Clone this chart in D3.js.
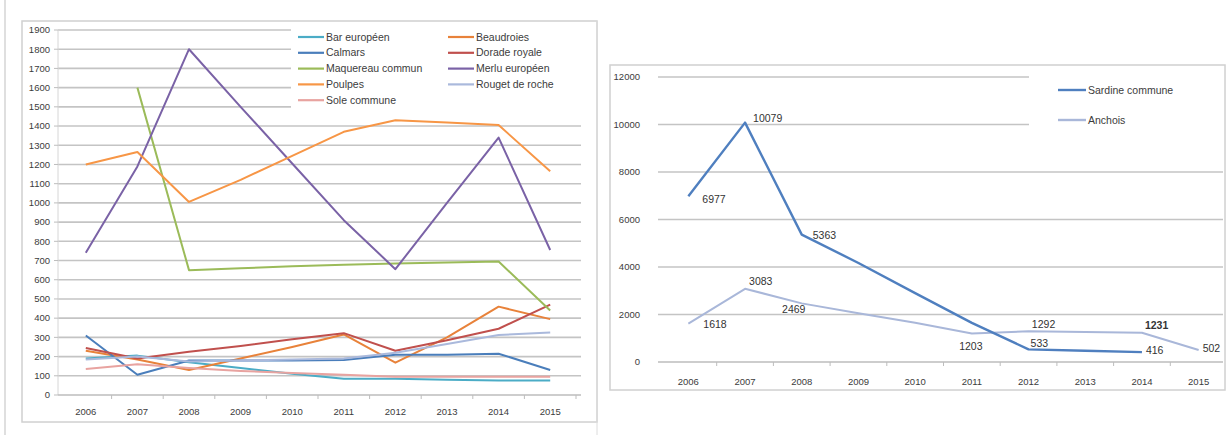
<!DOCTYPE html>
<html lang="fr">
<head>
<meta charset="utf-8">
<script src="https://cdn.jsdelivr.net/npm/d3@7"></script>
<style>
  html, body { margin: 0; padding: 0; background: #fff; }
  svg { display: block; font-family: "Liberation Sans", Arial, sans-serif; }
  .tick-label { fill: #3c3c3c; font-size: 9.5px; }
  .legend-label { fill: #3c3c3c; font-size: 10.5px; }
  .data-label { fill: #333; font-size: 10.5px; }
</style>
</head>
<body>
<svg id="chart" width="1231" height="435"></svg>
<script>
// ---- Data ----
const years = [2006, 2007, 2008, 2009, 2010, 2011, 2012, 2013, 2014, 2015];

// Left chart: landings by species (tonnes)
const barEuropeen     = [190, 205, 170, 140, 110, 85, 85, 80, 75, 75];
const beaudroies      = [230, 185, 130, 190, 250, 315, 168, 300, 460, 395];
const calmars         = [310, 105, 180, 180, 180, 182, 210, 210, 215, 130];
const doradeRoyale    = [245, 190, 225, 255, 290, 322, 230, 285, 345, 470];
const maquereauCommun = [null, 1600, 650, 660, 670, 678, 685, 690, 695, 440];
const merluEuropeen   = [740, 1190, 1800, 1500, 1205, 910, 655, 1000, 1340, 755];
const poulpes         = [1200, 1265, 1005, 1120, 1245, 1370, 1430, 1418, 1405, 1165];
const rougetDeRoche   = [185, 200, 175, 180, 185, 190, 220, 265, 312, 325];
const soleCommune     = [135, 160, 140, 125, 115, 105, 95, 95, 95, 95];

const leftTicks = d3.range(0, 2000, 100);

// Right chart: small pelagics (tonnes)
const sardineCommune = [6977, 10079, 5363, 4170, 2900, 1650, 533, 475, 416, null];
const anchois        = [1618, 3083, 2469, 2050, 1650, 1203, 1292, 1260, 1231, 502];

const rightTicks = [0, 2000, 4000, 6000, 8000, 10000, 12000];

// Values that carry a label on the right chart (index into years)
const sardineLabelled = [0, 1, 2, 6, 8];
const anchoisLabelled = [0, 1, 2, 5, 6, 8, 9];

// ---- Series descriptors ----
const leftSeries = [
  { name: "Bar européen",     values: barEuropeen,     color: "#4bacc6" },
  { name: "Beaudroies",       values: beaudroies,      color: "#e8823a" },
  { name: "Calmars",          values: calmars,         color: "#4a7ebb" },
  { name: "Dorade royale",    values: doradeRoyale,    color: "#c0504d" },
  { name: "Maquereau commun", values: maquereauCommun, color: "#9bbb59" },
  { name: "Merlu européen",   values: merluEuropeen,   color: "#7a62a6" },
  { name: "Poulpes",          values: poulpes,         color: "#f79646" },
  { name: "Rouget de roche",  values: rougetDeRoche,   color: "#aab9dc" },
  { name: "Sole commune",     values: soleCommune,     color: "#e8a3a0" }
];

const rightSeries = [
  { name: "Sardine commune", values: sardineCommune, color: "#4f7fbf", width: 2.4, labelled: sardineLabelled },
  { name: "Anchois",         values: anchois,        color: "#a9b7d9", width: 2,   labelled: anchoisLabelled }
];

const svg = d3.select("#chart");

// page edge line
svg.append("line").attr("x1", 5).attr("x2", 5).attr("y1", 0).attr("y2", 435)
  .attr("stroke", "#d4d4d4").attr("stroke-width", 1.5);

// ================= LEFT CHART =================
{
  const g = svg.append("g");
  g.append("rect").attr("x", 22).attr("y", 21).attr("width", 575).attr("height", 401)
    .attr("fill", "#fff").attr("stroke", "#d0d0d0").attr("stroke-width", 1.5);

  const x = d3.scalePoint().domain(years).range([60, 576]).padding(0.5);
  const y = d3.scaleLinear().domain([0, 1900]).range([395, 30]);
  const step = x.step();

  // gridlines
  g.selectAll("line.grid").data(leftTicks.filter(t => t > 0)).join("line")
    .attr("x1", 58).attr("x2", 581)
    .attr("y1", d => y(d)).attr("y2", d => y(d))
    .attr("stroke", "#c4c4c4").attr("stroke-width", 1.6);

  // y axis
  g.append("line").attr("x1", 58).attr("x2", 58).attr("y1", y(1900)).attr("y2", y(0))
    .attr("stroke", "#d6d6d6").attr("stroke-width", 1);
  g.selectAll("line.ytick").data(leftTicks).join("line")
    .attr("x1", 54).attr("x2", 58).attr("y1", d => y(d)).attr("y2", d => y(d))
    .attr("stroke", "#bdbdbd");
  g.selectAll("text.ylab").data(leftTicks).join("text")
    .attr("class", "tick-label")
    .attr("x", 50).attr("y", d => y(d)).attr("dy", "0.35em")
    .attr("text-anchor", "end").text(d => d);

  // x axis
  g.append("line").attr("x1", 58).attr("x2", 581).attr("y1", y(0)).attr("y2", y(0))
    .attr("stroke", "#bdbdbd").attr("stroke-width", 1.5);
  g.selectAll("line.xtick").data(years).join("line")
    .attr("x1", d => x(d) + step / 2).attr("x2", d => x(d) + step / 2)
    .attr("y1", y(0)).attr("y2", y(0) + 4).attr("stroke", "#bdbdbd");
  g.selectAll("text.xlab").data(years).join("text")
    .attr("class", "tick-label")
    .attr("x", d => x(d)).attr("y", 412).attr("dy", "0.35em")
    .attr("text-anchor", "middle").text(d => d);

  const line = d3.line()
    .defined(d => d != null)
    .x((d, i) => x(years[i]))
    .y(d => y(d));

  g.selectAll("path.series").data(leftSeries).join("path")
    .attr("fill", "none")
    .attr("stroke", d => d.color)
    .attr("stroke-width", 2)
    .attr("stroke-linejoin", "round")
    .attr("d", d => line(d.values));

  // legend
  const lg = g.append("g");
  lg.append("rect").attr("x", 291).attr("y", 25).attr("width", 292).attr("height", 86).attr("fill", "#fff");
  leftSeries.forEach((s, i) => {
    const col = i % 2, row = Math.floor(i / 2);
    const lx = col === 0 ? 298 : 448;
    const ly = 37 + row * 15.8;
    lg.append("line").attr("x1", lx).attr("x2", lx + 26).attr("y1", ly).attr("y2", ly)
      .attr("stroke", s.color).attr("stroke-width", 2.2);
    lg.append("text").attr("class", "legend-label")
      .attr("x", lx + 28).attr("y", ly).attr("dy", "0.35em").text(s.name);
  });
}

// ================= RIGHT CHART =================
{
  const g = svg.append("g");
  g.append("line").attr("x1", 597).attr("x2", 597).attr("y1", 21).attr("y2", 435)
    .attr("stroke", "#dcdcdc").attr("stroke-width", 1);
  g.append("rect").attr("x", 610).attr("y", 65).attr("width", 615).attr("height", 325)
    .attr("fill", "#fff").attr("stroke", "#d0d0d0").attr("stroke-width", 1.5);

  const x = d3.scalePoint().domain(years).range([660, 1227]).padding(0.5);
  const y = d3.scaleLinear().domain([0, 12000]).range([362, 77]);
  const step = x.step();

  g.selectAll("line.grid").data(rightTicks.filter(t => t > 0)).join("line")
    .attr("x1", 658).attr("x2", 1223)
    .attr("y1", d => y(d)).attr("y2", d => y(d))
    .attr("stroke", "#c4c4c4").attr("stroke-width", 1.6);

  g.selectAll("text.ylab").data(rightTicks).join("text")
    .attr("class", "tick-label")
    .attr("x", 640).attr("y", d => y(d)).attr("dy", "0.35em")
    .attr("text-anchor", "end").text(d => d);

  g.append("line").attr("x1", 658).attr("x2", 1223).attr("y1", y(0)).attr("y2", y(0))
    .attr("stroke", "#bdbdbd").attr("stroke-width", 1.5);
  g.selectAll("line.xtick").data(years.slice(0, -1)).join("line")
    .attr("x1", d => x(d) + step / 2).attr("x2", d => x(d) + step / 2)
    .attr("y1", y(0)).attr("y2", y(0) + 4).attr("stroke", "#bdbdbd");
  g.selectAll("text.xlab").data(years).join("text")
    .attr("class", "tick-label")
    .attr("x", d => x(d)).attr("y", 382).attr("dy", "0.35em")
    .attr("text-anchor", "middle").text(d => d);

  const line = d3.line()
    .defined(d => d != null)
    .x((d, i) => x(years[i]))
    .y(d => y(d));

  // Anchois drawn first so the sardine line sits above it
  [...rightSeries].reverse().forEach(s => {
    g.append("path").attr("fill", "none")
      .attr("stroke", s.color).attr("stroke-width", s.width)
      .attr("stroke-linejoin", "round")
      .attr("d", line(s.values));
  });

  // data labels: offsets per point [dx, dy, anchor]
  const sardineOffsets = {
    0: [14, 3, "start"], 1: [8, -4, "start"], 2: [11, 1, "start"],
    6: [2, -6, "start"], 8: [4, -2, "start"]
  };
  const anchoisOffsets = {
    0: [15, 1, "start"], 1: [4, -7, "start"], 2: [-8, 6, "middle"],
    5: [-1, 13, "middle"], 6: [15, -7, "middle"], 8: [3, -7, "start"], 9: [4, -2, "start"]
  };
  const addLabels = (s, offsets) => {
    g.selectAll(null).data(s.labelled).join("text")
      .attr("class", "data-label")
      .attr("x", i => x(years[i]) + offsets[i][0])
      .attr("y", i => y(s.values[i]) + offsets[i][1])
      .attr("dy", "0.35em")
      .attr("text-anchor", i => offsets[i][2])
      .style("font-weight", i => (s === rightSeries[1] && i === 8) ? "bold" : null)
      .text(i => s.values[i]);
  };
  addLabels(rightSeries[0], sardineOffsets);
  addLabels(rightSeries[1], anchoisOffsets);

  // legend
  const lg = g.append("g");
  lg.append("rect").attr("x", 1029).attr("y", 68).attr("width", 194).attr("height", 70).attr("fill", "#fff");
  rightSeries.forEach((s, i) => {
    const ly = 90 + i * 30;
    lg.append("line").attr("x1", 1058).attr("x2", 1086).attr("y1", ly).attr("y2", ly)
      .attr("stroke", s.color).attr("stroke-width", 2.4);
    lg.append("text").attr("class", "legend-label")
      .attr("x", 1088).attr("y", ly).attr("dy", "0.35em").text(s.name);
  });
}
</script>
</body>
</html>
